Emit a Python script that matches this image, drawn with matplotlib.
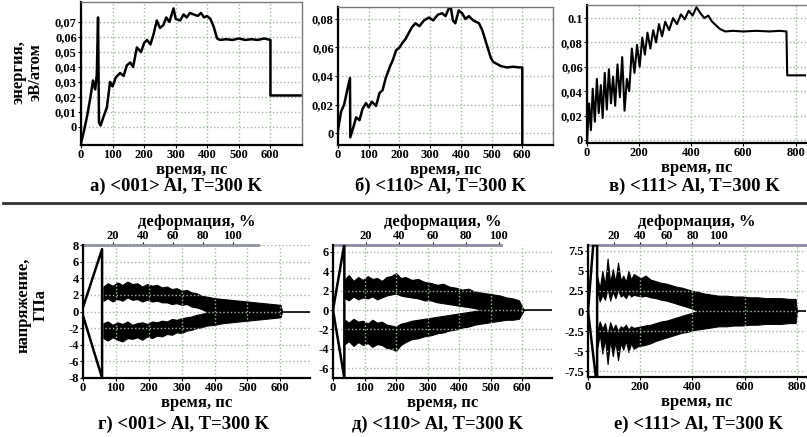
import matplotlib
matplotlib.use("Agg")
import matplotlib.pyplot as plt
from matplotlib.lines import Line2D

plt.rcParams['font.family'] = ['Liberation Serif', 'DejaVu Serif']
plt.rcParams['font.weight'] = 'bold'
plt.rcParams['axes.labelweight'] = 'bold'

# ---- данные: энергия (верхний ряд) ----
a_t = [0, 10, 20, 30, 38, 45, 50, 54, 57, 62, 70, 82, 92, 100, 110, 124, 135, 145, 156, 165,
       177, 190, 200, 209, 220, 230, 240, 250, 261, 270, 280, 293, 300, 314, 325, 335, 345,
       357, 370, 380, 390, 399, 410, 420, 431, 440, 460, 480, 500, 520, 540, 560, 580, 600,
       600, 700]
a_e = [-0.011, -0.002, 0.008, 0.02, 0.031, 0.025, 0.035, 0.073, 0.003, 0.001, 0.006, 0.013,
       0.03, 0.027, 0.033, 0.036, 0.034, 0.041, 0.043, 0.04, 0.053, 0.05, 0.056, 0.058, 0.055,
       0.062, 0.071, 0.066, 0.068, 0.073, 0.07, 0.079, 0.072, 0.071, 0.075, 0.073, 0.076,
       0.075, 0.074, 0.076, 0.073, 0.074, 0.072, 0.067, 0.059, 0.058, 0.0585, 0.058, 0.059,
       0.058, 0.0585, 0.058, 0.059, 0.058, 0.021, 0.021]

b_t = [0, 10, 20, 30, 39, 40, 50, 59, 70, 80, 91, 100, 110, 124, 135, 145, 156, 170, 180,
       189, 200, 209, 220, 230, 240, 252, 265, 280, 296, 310, 325, 339, 350, 366, 374, 382,
       393, 404, 415, 426, 440, 459, 470, 480, 490, 497, 505, 513, 530, 550, 570, 590, 600,
       600, 700]
b_e = [0.002, 0.015, 0.02, 0.03, 0.0386, -0.003, 0.004, 0.011, 0.009, 0.017, 0.021, 0.018,
       0.022, 0.019, 0.028, 0.03, 0.039, 0.047, 0.052, 0.058, 0.06, 0.063, 0.066, 0.07, 0.074,
       0.077, 0.075, 0.079, 0.081, 0.079, 0.083, 0.084, 0.082, 0.09, 0.079, 0.077, 0.086,
       0.084, 0.08, 0.082, 0.079, 0.077, 0.072, 0.065, 0.058, 0.053, 0.05, 0.049, 0.047,
       0.046, 0.0465, 0.046, 0.046, -0.01, -0.01]

c_t = [0, 8, 15, 22, 30, 38, 45, 53, 60, 68, 76, 84, 92, 100, 108, 117, 126, 135, 144, 153,
       162, 172, 182, 192, 202, 212, 222, 232, 243, 254, 265, 276, 288, 300, 315, 330, 345,
       360, 375, 390, 405, 420, 435, 450, 465, 480, 495, 510, 530, 560, 600, 650, 700, 740,
       765, 768, 840]
c_e = [-0.002, 0.03, 0.008, 0.042, 0.015, 0.05, 0.022, 0.045, 0.018, 0.055, 0.025, 0.058,
       0.03, 0.052, 0.028, 0.062, 0.035, 0.068, 0.024, 0.05, 0.04, 0.075, 0.055, 0.078, 0.06,
       0.084, 0.07, 0.088, 0.075, 0.09, 0.08, 0.095, 0.085, 0.097, 0.09, 0.1, 0.095, 0.103,
       0.099, 0.106, 0.102, 0.109, 0.104, 0.1, 0.102, 0.097, 0.094, 0.091, 0.089, 0.0895,
       0.089, 0.0895, 0.089, 0.0895, 0.089, 0.053, 0.053]

# ---- данные: напряжение (нижний ряд), огибающие шумовых полос ----
# г) <001>
d_start_t = [0, 58, 58, 0]
d_start_s = [0.5, 7.5, -8.0, -0.5]
d_t = [62, 75, 90, 105, 120, 135, 150, 165, 180, 195, 210, 225, 240, 255, 270, 285, 300,
       315, 330, 345, 360, 375, 400, 425, 450, 475, 500, 525, 550, 575, 600, 605]
d_up_hi = [3.0, 3.4, 3.1, 3.5, 3.2, 3.6, 3.3, 3.4, 3.0, 3.3, 3.1, 3.2, 2.9, 3.0, 2.7, 2.8,
           2.5, 2.6, 2.3, 2.2, 1.9, 1.8, 1.6, 1.5, 1.4, 1.3, 1.2, 1.1, 1.0, 0.9, 0.8, 0.0]
d_up_lo = [1.3, 1.6, 1.2, 1.5, 1.3, 1.7, 1.4, 1.5, 1.2, 1.4, 1.2, 1.3, 1.1, 1.1, 0.9, 1.0,
           0.8, 0.9, 0.6, 0.5, 0.3, 0.0, -0.8, -1.0, -1.0, -0.9, -0.9, -0.8, -0.7, -0.6, -0.6, 0.0]
d_lo_hi = [-1.4, -1.2, -1.6, -1.3, -1.5, -1.2, -1.6, -1.4, -1.3, -1.5, -1.2, -1.3, -1.1,
           -1.2, -0.9, -1.0, -0.8, -0.7, -0.6, -0.4, -0.3, -0.1, 0.6, 0.8, 0.9, 0.8, 0.8,
           0.7, 0.6, 0.6, 0.5, 0.0]
d_lo_lo = [-3.2, -3.5, -3.1, -3.4, -3.6, -3.2, -3.3, -3.1, -3.4, -3.0, -3.2, -2.9, -3.0,
           -2.7, -2.8, -2.5, -2.6, -2.3, -2.2, -2.0, -1.9, -1.7, -1.6, -1.4, -1.3, -1.2,
           -1.1, -1.0, -0.9, -0.8, -0.7, 0.0]
d_tail_t = [605, 690]

# д) <110>
e_start_t = [0, 36, 36, 0]
e_start_s = [0.0, 6.8, -7.0, 0.0]
e_t = [38, 50, 65, 80, 95, 110, 125, 140, 155, 170, 185, 200, 215, 230, 250, 270, 290, 310,
       330, 350, 370, 390, 410, 430, 450, 470, 490, 510, 530, 550, 570, 590, 605]
e_up_hi = [3.2, 3.6, 3.0, 3.4, 3.1, 3.5, 3.2, 3.3, 3.0, 3.4, 3.5, 3.8, 3.3, 3.4, 3.1, 3.2,
           2.9, 2.8, 2.6, 2.7, 2.4, 2.3, 2.1, 2.2, 1.9, 1.8, 1.7, 1.6, 1.5, 1.3, 1.2, 1.0, 0.0]
e_up_lo = [1.2, 1.0, 1.4, 1.1, 1.3, 1.2, 1.4, 1.1, 1.3, 1.5, 1.6, 1.7, 1.5, 1.4, 1.3, 1.2,
           1.0, 1.0, 0.8, 0.7, 0.6, 0.5, 0.4, 0.3, 0.2, 0.0, -0.2, -0.4, -0.6, -0.7, -0.8,
           -0.8, 0.0]
e_lo_hi = [-1.0, -1.3, -0.9, -1.2, -1.1, -1.4, -1.0, -1.3, -1.2, -1.5, -1.6, -1.7, -1.4,
           -1.3, -1.1, -1.0, -0.9, -0.8, -0.7, -0.6, -0.5, -0.4, -0.3, -0.2, -0.1, 0.0, 0.2,
           0.4, 0.6, 0.7, 0.8, 0.8, 0.0]
e_lo_lo = [-3.5, -3.2, -3.7, -3.3, -3.6, -3.4, -3.8, -3.5, -3.6, -3.9, -4.0, -4.2, -3.6,
           -3.3, -3.0, -2.9, -2.7, -2.6, -2.4, -2.3, -2.1, -2.0, -1.8, -1.7, -1.5, -1.4,
           -1.3, -1.2, -1.1, -1.0, -1.0, -0.9, 0.0]
e_tail_t = [605, 695]

# е) <111>
f_start_t = [0, 20, 35, 35, 30, 0]
f_start_s = [0.0, 8.2, 8.2, -8.2, -8.2, 0.0]
f_t = [36, 45, 55, 65, 75, 85, 95, 105, 115, 125, 135, 145, 155, 165, 175, 190, 205, 220,
       240, 260, 280, 300, 320, 340, 360, 380, 400, 420, 440, 460, 480, 500, 530, 560, 590,
       620, 650, 680, 710, 740, 770, 795, 800]
f_up_hi = [4.2, 2.8, 5.0, 3.2, 6.5, 3.5, 5.2, 3.6, 6.0, 3.8, 4.4, 3.6, 5.0, 3.9, 4.6, 4.3,
           4.1, 4.4, 3.9, 3.7, 3.5, 3.4, 3.2, 3.0, 2.9, 2.7, 2.5, 2.4, 2.2, 2.1, 2.0, 1.9,
           1.9, 1.8, 1.8, 1.7, 1.7, 1.6, 1.6, 1.6, 1.5, 1.5, 0.0]
f_up_lo = [2.5, 1.2, 2.0, 1.4, 2.8, 1.3, 2.4, 1.6, 2.6, 1.8, 2.0, 1.6, 2.2, 1.8, 2.0, 1.9,
           1.8, 1.9, 1.7, 1.6, 1.4, 1.3, 1.1, 0.9, 0.7, 0.5, 0.3, 0.0, -0.5, -1.0, -1.3,
           -1.4, -1.5, -1.5, -1.5, -1.4, -1.5, -1.4, -1.4, -1.4, -1.3, -1.3, 0.0]
f_lo_hi = [-2.4, -1.3, -2.2, -1.5, -2.9, -1.4, -2.3, -1.7, -2.5, -1.9, -2.1, -1.7, -2.3,
           -1.9, -2.1, -2.0, -1.9, -1.8, -1.7, -1.5, -1.3, -1.2, -1.0, -0.8, -0.6, -0.4,
           -0.2, 0.0, 0.5, 1.0, 1.2, 1.3, 1.4, 1.4, 1.4, 1.3, 1.4, 1.3, 1.3, 1.3, 1.2, 1.2, 0.0]
f_lo_lo = [-4.5, -2.9, -5.3, -3.4, -6.6, -3.6, -5.6, -3.8, -6.1, -4.0, -4.8, -3.7, -5.1,
           -4.0, -4.7, -4.4, -4.3, -4.2, -4.0, -3.7, -3.5, -3.3, -3.1, -2.9, -2.7, -2.6,
           -2.4, -2.3, -2.2, -2.1, -2.0, -1.9, -1.9, -1.8, -1.8, -1.7, -1.7, -1.6, -1.6,
           -1.6, -1.5, -1.5, 0.0]
f_tail_t = [800, 835]

# ---- подписи ----
captions_top = ['а) <001> Al, T=300 K', 'б) <110> Al, T=300 K', 'в) <111> Al, T=300 K']
captions_bot = ['г) <001> Al, T=300 K', 'д) <110> Al, T=300 K', 'е) <111> Al, T=300 K']
a_yticks = [0, 0.01, 0.02, 0.03, 0.04, 0.05, 0.06, 0.07]
a_ylabels = ['0', '0,01', '0,02', '0,03', '0,04', '0,05', '0,06', '0,07']
b_yticks = [0, 0.02, 0.04, 0.06, 0.08]
b_ylabels = ['0', '0,02', '0,04', '0,06', '0,08']
c_yticks = [0, 0.02, 0.04, 0.06, 0.08, 0.1]
c_ylabels = ['0', '0,02', '0,04', '0,06', '0,08', '0.1']
d_yticks = [-8, -6, -4, -2, 0, 2, 4, 6, 8]
e_yticks = [-6, -4, -2, 0, 2, 4, 6]
f_yticks = [-7.5, -5, -2.5, 0, 2.5, 5, 7.5]
deform_ticks = [20, 40, 60, 80, 100]

W, H = 807, 437
GRID = '#9dbb9a'
TICK_FS = 9
LABEL_FS = 12
CAP_FS = 13.5


def box(l, r, t, b):
    return [l / W, (H - b) / H, (r - l) / W, (b - t) / H]


def style(ax, xt, xlim, ylim):
    ax.set_xlim(*xlim)
    ax.set_ylim(*ylim)
    ax.set_xticks(xt)
    ax.grid(True, ls=':', color=GRID, lw=1.0)
    for s in ['left', 'bottom']:
        ax.spines[s].set_linewidth(1.6)
    for s in ['top', 'right']:
        ax.spines[s].set_color('#777777')
        ax.spines[s].set_linewidth(1.0)
    ax.tick_params(length=2, width=0.8, labelsize=TICK_FS, pad=1)
    ax.set_xlabel('время, пс', fontsize=LABEL_FS, labelpad=0.5)


fig = plt.figure(figsize=(W / 100, H / 100), dpi=100)

# --- верхний ряд ---
ax_a = fig.add_axes(box(81, 302, 2, 145))
ax_b = fig.add_axes(box(338, 553, 7, 145))
ax_c = fig.add_axes(box(587, 806, 5, 143))

ax_a.plot(a_t, a_e, color='black', lw=1.8)
style(ax_a, range(0, 700, 100), (0, 700), (-0.012, 0.0833))
ax_a.set_yticks(a_yticks, a_ylabels)

ax_b.plot(b_t, b_e, color='black', lw=1.8)
style(ax_b, range(0, 700, 100), (0, 700), (-0.0084, 0.0884))
ax_b.set_yticks(b_yticks, b_ylabels)

ax_c.plot(c_t, c_e, color='black', lw=1.5)
style(ax_c, range(0, 900, 200), (0, 840), (-0.0025, 0.1107))
ax_c.set_yticks(c_yticks, c_ylabels)
ax_c.spines['right'].set_visible(False)

# подписи под панелями ставятся в пикселях фигуры
for cap, cx in zip(captions_top, [176, 440, 694]):
    fig.text(cx / W, 1 - 186 / H, cap, ha='center', va='center', fontsize=CAP_FS)

fig.text(27 / W, 1 - 72 / H, 'энергия,\nэВ/атом', rotation=90, ha='center', va='center',
         fontsize=12, linespacing=1.1)

# --- разделитель ---
fig.add_artist(Line2D([3 / W, 1], [1 - 203 / H, 1 - 203 / H], color='#333333', lw=2))

# --- нижний ряд ---
ax_d = fig.add_axes(box(83, 310, 245, 378))
ax_e = fig.add_axes(box(333, 552, 245, 378))
ax_f = fig.add_axes(box(588, 806, 245, 377))

panels = [
    (ax_d, d_start_t, d_start_s, d_t, d_up_hi, d_up_lo, d_lo_hi, d_lo_lo, d_tail_t,
     range(0, 700, 100), (0, 690), (-8, 8), d_yticks, [str(v) for v in d_yticks], 0.22, 117),
    (ax_e, e_start_t, e_start_s, e_t, e_up_hi, e_up_lo, e_lo_hi, e_lo_lo, e_tail_t,
     range(0, 700, 100), (0, 695), (-7.0, 6.7), e_yticks, [str(v) for v in e_yticks], 0.19, 101),
    (ax_f, f_start_t, f_start_s, f_t, f_up_hi, f_up_lo, f_lo_hi, f_lo_lo, f_tail_t,
     range(0, 900, 200), (0, 835), (-8.2, 8.2), f_yticks, [str(v) for v in f_yticks], 0.2, 170),
]

for (ax, st, ss, t, uh, ul, lh, ll, tail, xt, xlim, ylim, yt, yl, k, dmax) in panels:
    ax.plot(st, ss, color='black', lw=1.8)
    ax.fill_between(t, ul, uh, color='black', lw=0.8, edgecolor='black')
    ax.fill_between(t, ll, lh, color='black', lw=0.8, edgecolor='black')
    ax.plot(tail, [0, 0], color='black', lw=1.2)
    style(ax, xt, xlim, ylim)
    ax.set_yticks(yt, yl)
    ax.spines['top'].set_visible(False)
    ax.spines['right'].set_visible(False)
    sec = ax.secondary_xaxis('top', functions=(lambda x, k=k: x * k, lambda d, k=k: d / k))
    sec.set_xticks(deform_ticks)
    sec.tick_params(length=2, labelsize=TICK_FS, pad=0)
    sec.spines['top'].set_color('#8a8aa0')
    sec.spines['top'].set_linewidth(2)
    sec.spines['top'].set_bounds(0, dmax)
    sec.set_xlabel('деформация, %', fontsize=LABEL_FS, labelpad=3)

for cap, cx in zip(captions_bot, [184, 437, 698]):
    fig.text(cx / W, 1 - 424 / H, cap, ha='center', va='center', fontsize=CAP_FS)

fig.text(32 / W, 1 - 305 / H, 'напряжение,\nГПа', rotation=90, ha='center', va='center',
         fontsize=12, linespacing=1.1)

fig.savefig('out.png', dpi=100)
